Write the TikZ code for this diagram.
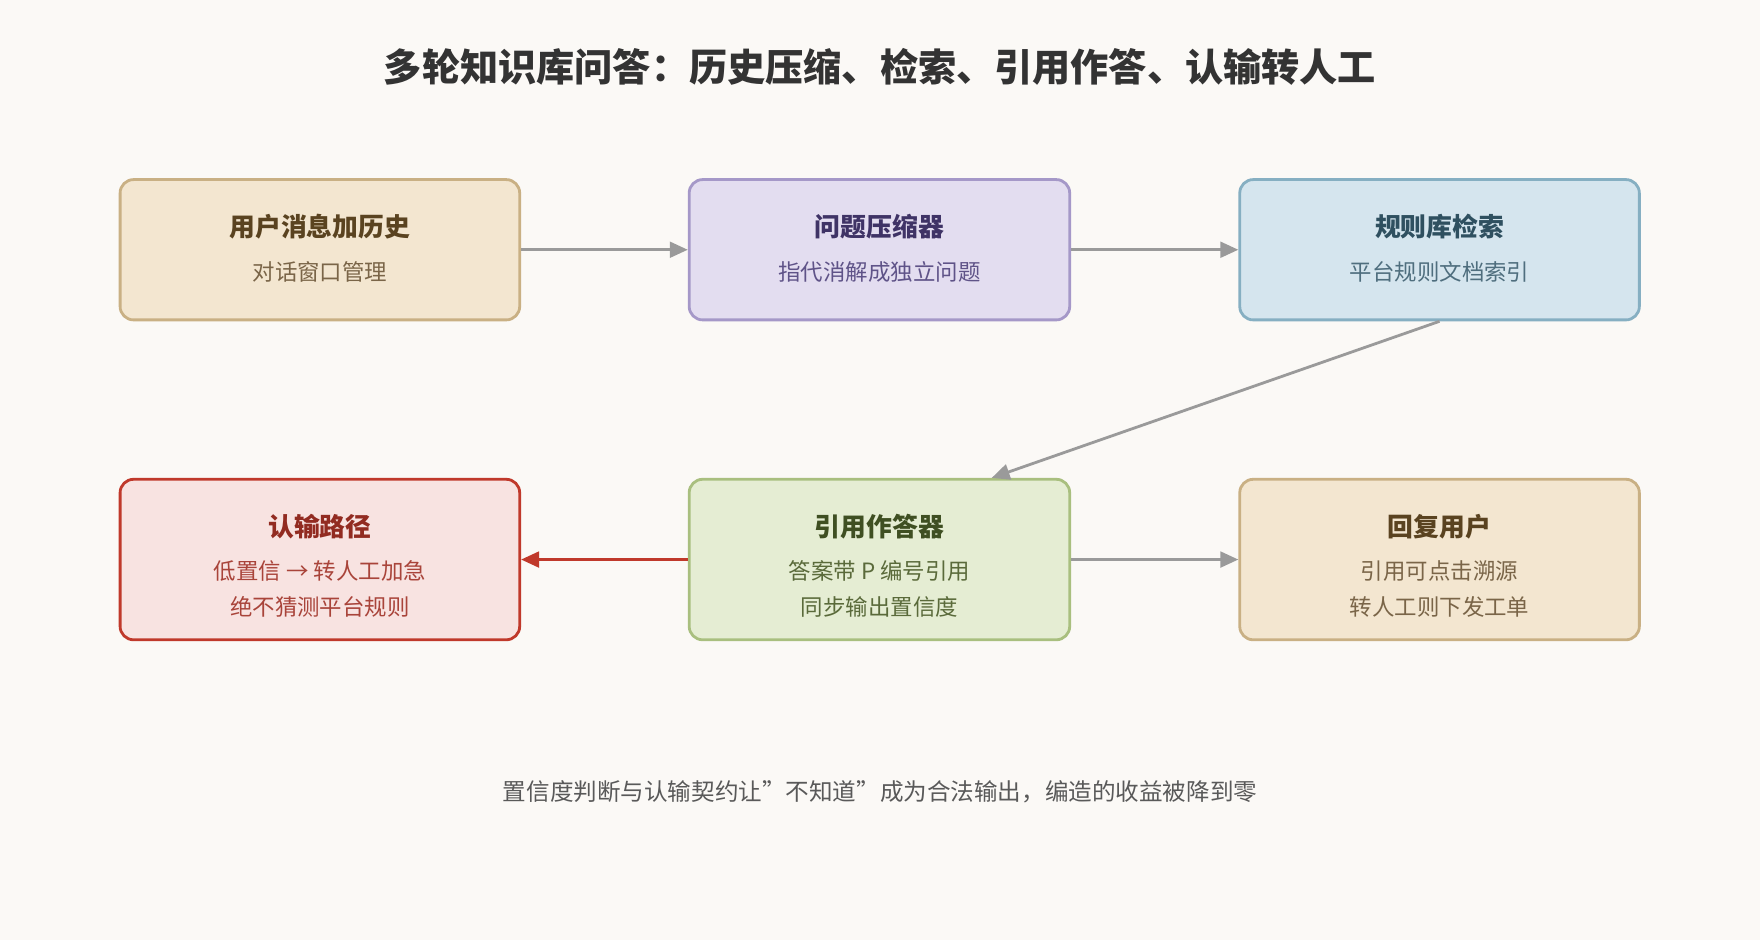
\documentclass[tikz,border=0pt]{standalone}
\usepackage{fontspec}
\setmainfont{Noto Sans CJK SC}
\usetikzlibrary{arrows.meta}
\definecolor{bg}{HTML}{FBF9F6}
\definecolor{arr}{HTML}{9A9A9A}
\definecolor{tanF}{HTML}{F3E6D0}\definecolor{tanD}{HTML}{C9B084}\definecolor{tanT}{HTML}{5A4320}\definecolor{tanS}{HTML}{7A6548}
\definecolor{purF}{HTML}{E3DDF0}\definecolor{purD}{HTML}{A598C8}\definecolor{purT}{HTML}{3F3366}\definecolor{purS}{HTML}{5F5388}
\definecolor{bluF}{HTML}{D5E5EE}\definecolor{bluD}{HTML}{86AFC2}\definecolor{bluT}{HTML}{2F5060}\definecolor{bluS}{HTML}{4F6E7E}
\definecolor{redF}{HTML}{F8E3E1}\definecolor{redD}{HTML}{C0392B}\definecolor{redT}{HTML}{922B21}\definecolor{redS}{HTML}{A9443A}
\definecolor{grnF}{HTML}{E5EDD3}\definecolor{grnD}{HTML}{A9BF7F}\definecolor{grnT}{HTML}{3F4F22}\definecolor{grnS}{HTML}{5A6A3A}
\tikzset{
  box/.style={draw, line width=2.5pt, rounded corners=12pt, minimum width=356pt, inner sep=0pt},
  ar/.style={draw=arr, line width=2.5pt, -{Triangle[length=16pt,width=14pt]}},
  tt/.style={font=\fontsize{23}{28}\selectfont\bfseries},
  st/.style={font=\fontsize{20}{32}\selectfont, align=center},
}
\begin{document}
\begin{tikzpicture}[x=1pt,y=-1pt]
\fill[bg] (0,0) rectangle (1568,837.5);
\useasboundingbox (0,0) rectangle (1568,837.5);
\node[font=\fontsize{34}{40}\selectfont\bfseries, text=black!80] (title) at (784,60) {多轮知识库问答：历史压缩、检索、引用作答、认输转人工};
% row 1
\node[box, draw=tanD, fill=tanF, minimum height=125pt] (a) at (285,222.5) {};
\node[tt, text=tanT] (at) at (285,202) {用户消息加历史};
\node[st, text=tanS] (as) at (285,242) {对话窗口管理};
\node[box, draw=purD, fill=purF, minimum height=125pt, minimum width=339pt] (b) at (783.5,222.5) {};
\node[tt, text=purT] (bt) at (783.5,202) {问题压缩器};
\node[st, text=purS] (bs) at (783.5,242) {指代消解成独立问题};
\node[box, draw=bluD, fill=bluF, minimum height=125pt] (c) at (1282.5,222.5) {};
\node[tt, text=bluT] (ct) at (1282.5,202) {规则库检索};
\node[st, text=bluS] (cs) at (1282.5,242) {平台规则文档索引};
% row 2
\node[box, draw=redD, fill=redF, minimum height=143pt] (d) at (285,498.5) {};
\node[tt, text=redT] (dt) at (285,469) {认输路径};
\node[st, text=redS] (ds) at (285,525) {低置信 → 转人工加急\\绝不猜测平台规则};
\node[box, draw=grnD, fill=grnF, minimum height=143pt, minimum width=339pt] (e) at (783.5,498.5) {};
\node[tt, text=grnT] (et) at (783.5,469) {引用作答器};
\node[st, text=grnS] (es) at (783.5,525) {答案带 P 编号引用\\同步输出置信度};
\node[box, draw=tanD, fill=tanF, minimum height=143pt] (f) at (1282.5,498.5) {};
\node[tt, text=tanT] (ft) at (1282.5,469) {回复用户};
\node[st, text=tanS] (fs) at (1282.5,525) {引用可点击溯源\\转人工则下发工单};
% arrows
\draw[ar] (a.east) -- (b.west);
\draw[ar] (b.east) -- (c.west);
\coordinate (eIn) at ([xshift=100pt]e.north);
\draw[ar] (c.south) -- (eIn);
\draw[ar, draw=redD] (e.west) -- (d.east);
\draw[ar] (e.east) -- (f.west);
\node[font=\fontsize{21}{26}\selectfont, text=black!65] (foot) at (784,705) {置信度判断与认输契约让"不知道"成为合法输出，编造的收益被降到零};
\end{tikzpicture}
\end{document}
